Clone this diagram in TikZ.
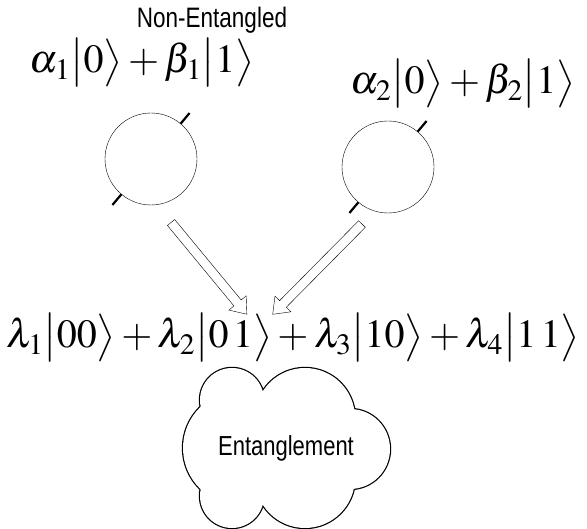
\documentclass[tikz,border=0pt]{standalone}
\usepackage{mathptmx}
\usepackage[no-math]{fontspec}
\setsansfont{Liberation Sans}
\usetikzlibrary{shapes.arrows}

\newcommand{\tallsans}[1]{\scalebox{1}[1.25]{#1}}

\begin{document}
\begin{tikzpicture}[
    x=1pt, y=1pt,
    qubit/.style={circle, draw, minimum size=92pt, inner sep=0pt, outer sep=0pt},
    tick/.style={line width=2.2pt},
    ket/.style={inner sep=0pt, anchor=base, font=\fontsize{40}{48}\selectfont},
    sanstext/.style={inner sep=0pt, font=\sffamily\fontsize{22}{26}\selectfont},
    bigarrow/.style={single arrow, draw, sloped, allow upside down, inner xsep=0pt,
        inner ysep=4.5pt, single arrow head extend=6.5pt, single arrow tip angle=75}
]
    \useasboundingbox (0,0) rectangle (587,529);

    \node[sanstext, font=\sffamily\fontsize{22.5}{27}\selectfont] (title) at (212,509) {\tallsans{Non-Entangled}};
    \node[ket] (psi1) at (142,456) {$\alpha_1\bigl|0\bigr\rangle + \beta_1\bigl|1\bigr\rangle$};
    \node[ket] (psi2) at (463,435) {$\alpha_2\bigl|0\bigr\rangle + \beta_2\bigl|1\bigr\rangle$};

    \node[qubit] (q1) at (151,370) {};
    \node[qubit] (q2) at (388,362) {};
    \draw[tick] (q1.50) -- ++(50:14);
    \draw[tick] (q1.230) -- ++(230:14);
    \draw[tick] (q2.50) -- ++(50:14);
    \draw[tick] (q2.230) -- ++(230:14);

    \node[ket] (phi) at (293,181) {$\lambda_1\bigl|00\bigr\rangle + \lambda_2\bigl|0\,1\bigr\rangle
        + \lambda_3\bigl|10\bigr\rangle + \lambda_4\bigl|1\,1\bigr\rangle$};

    \coordinate (a1) at (169,309);
    \coordinate (b1) at (245,217);
    \coordinate (a2) at (364,307);
    \coordinate (b2) at (275,217);
    \path (a1) -- node[bigarrow, minimum height=119pt] {} (b1);
    \path (a2) -- node[bigarrow, minimum height=127pt] {} (b2);

    % cloud = outline of six overlapping puffs
    \foreach \cx/\cy/\r in {232/129/32, 305/111/50, 350/80/40, 305/51/50, 232/33/32, 240/81/57}
        \draw[line width=2.4pt] (\cx,\cy) circle[radius=\r pt];
    \foreach \cx/\cy/\r in {232/129/32, 305/111/50, 350/80/40, 305/51/50, 232/33/32, 240/81/57}
        \fill[white] (\cx,\cy) circle[radius=\r pt];
    \fill[white] (286,81) ellipse[x radius=70pt, y radius=55pt];
    \node[sanstext] (ent) at (286,81) {\tallsans{Entanglement}};
\end{tikzpicture}
\end{document}
